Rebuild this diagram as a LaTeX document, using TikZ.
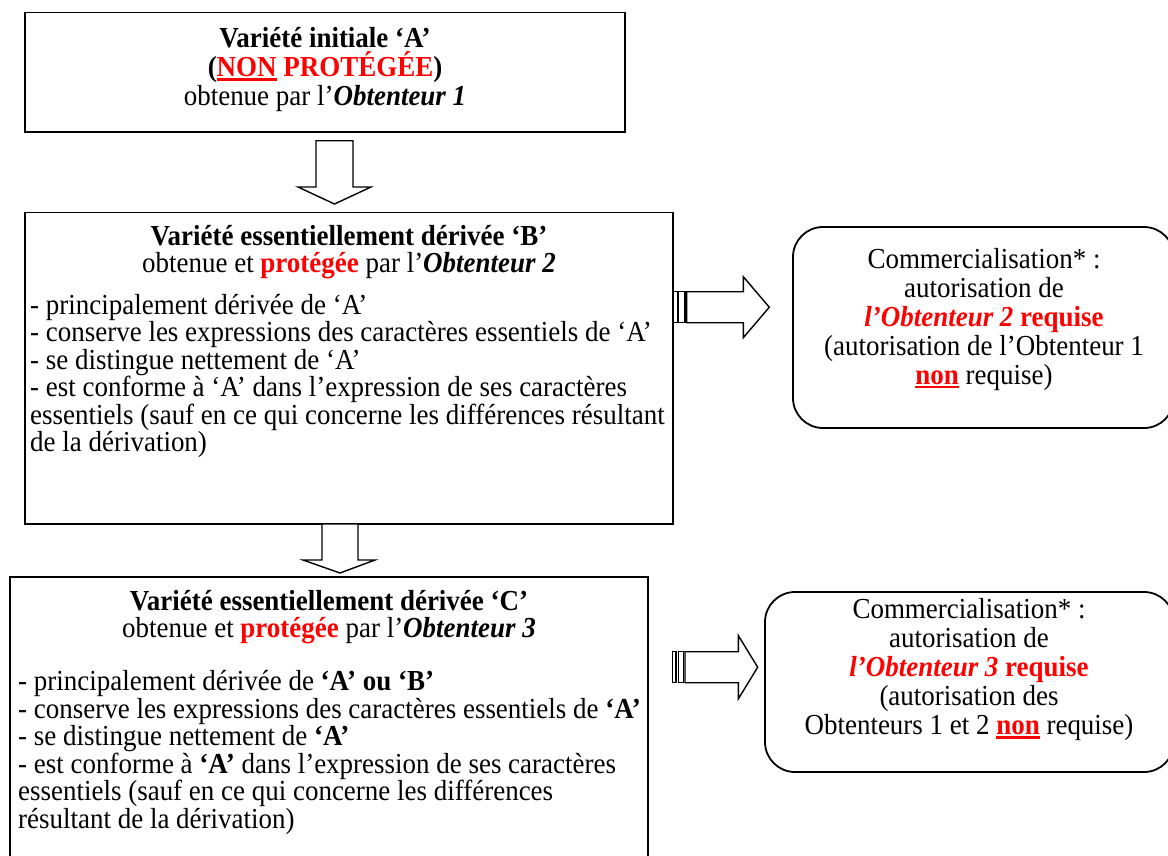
\documentclass[tikz,border=0pt]{standalone}
\usepackage{fontspec}
\setmainfont{Liberation Serif}[FakeStretch=0.93]
\usetikzlibrary{calc}
\definecolor{rd}{RGB}{255,0,0}
\newcommand{\myul}[1]{{\setbox0\hbox{#1}\leavevmode\rlap{\rule[-3.8pt]{\wd0}{2.4pt}}\box0}}
\tikzset{
  box/.style={draw, line width=1.8pt, rectangle, inner sep=0pt},
  rbox/.style={draw, line width=1.8pt, rectangle, rounded corners=30pt, inner sep=0pt},
  blockarrow/.style={draw, line width=1.4pt, fill=white, line join=miter},
  txt/.style={inner sep=0pt, font=\fontsize{29}{27}\selectfont, align=center},
  txta/.style={inner sep=0pt, font=\fontsize{29}{29}\selectfont, align=center},
  txtr/.style={inner sep=0pt, font=\fontsize{29}{29}\selectfont, align=center},
  ltxt/.style={inner sep=0pt, font=\fontsize{29}{27.5}\selectfont, align=left, anchor=west},
}
\begin{document}
\begin{tikzpicture}[x=1pt,y=-1pt]
\useasboundingbox[fill=white] (0,0) rectangle (1168,855);

% boxes
\node[box, minimum width=600pt, minimum height=119.5pt] (A) at (325,72.3) {};
\node[box, minimum width=648pt, minimum height=311.5pt] (B) at (349,368.2) {};
\node[box, minimum width=638pt, minimum height=293pt] (C) at (329,723.5) {};
\node[rbox, minimum width=381pt, minimum height=201pt] (R1) at (983.5,327.5) {};
\node[rbox, minimum width=409pt, minimum height=180pt] (R2) at (969.5,682) {};

% block arrows
\draw[blockarrow] (316,140.7) -- (353,140.7) -- (353,187) -- (371,187) -- (334.5,204) -- (298,187) -- (316,187) -- cycle;
\draw[blockarrow] (322,524) -- (358,524) -- (358,560) -- (375,560) -- (340,573) -- (303,560) -- (322,560) -- cycle;

\draw[blockarrow] (673,291.7) rectangle (677.3,322.7);
\draw[blockarrow] (678.7,291.7) rectangle (685,322.7);
\draw[blockarrow] (686.7,291.7) -- (743.3,291.7) -- (743.3,276.7) -- (769.3,307.2) -- (743.3,337.7) -- (743.3,322.7) -- (686.7,322.7) -- cycle;

\draw[blockarrow] (672.7,651.7) rectangle (676,682.7);
\draw[blockarrow] (678.3,651.7) rectangle (683.3,682.7);
\draw[blockarrow] (685,651.7) -- (738.3,651.7) -- (738.3,635.5) -- (757.7,667.2) -- (738.3,698.9) -- (738.3,682.7) -- (685,682.7) -- cycle;

% texts
\node[txta] (tA) at (325,70) {\textbf{Variété initiale ‘A’}\\
\textbf{(\textcolor{rd}{\myul{NON} PROTÉGÉE})}\\
obtenue par l’\textbf{\textit{Obtenteur 1}}};

\node[txt] (tB) at (349,252.5) {\textbf{Variété essentiellement dérivée ‘B’}\\
obtenue et \textcolor{rd}{\textbf{protégée}} par l’\textbf{\textit{Obtenteur 2}}};
\node[ltxt] (lB) at (30,376) {- principalement dérivée de ‘A’\\
- conserve les expressions des caractères essentiels de ‘A’\\
- se distingue nettement de ‘A’\\
- est conforme à ‘A’ dans l’expression de ses caractères\\
essentiels (sauf en ce qui concerne les différences résultant\\
de la dérivation)};

\node[txt] (tC) at (329,617.5) {\textbf{Variété essentiellement dérivée ‘C’}\\
obtenue et \textcolor{rd}{\textbf{protégée}} par l’\textbf{\textit{Obtenteur 3}}};
\node[ltxt] (lC) at (18,752.5) {- principalement dérivée de \textbf{‘A’ ou ‘B’}\\
- conserve les expressions des caractères essentiels de \textbf{‘A’}\\
- se distingue nettement de \textbf{‘A’}\\
- est conforme à \textbf{‘A’} dans l’expression de ses caractères\\
essentiels (sauf en ce qui concerne les différences\\
résultant de la dérivation)};

\node[txtr] (tR1) at (984,319.5) {Commercialisation* :\\
autorisation de\\
\textcolor{rd}{\textbf{\textit{l’Obtenteur 2}} \textbf{requise}}\\
(autorisation de l’Obtenteur 1\\
\textcolor{rd}{\textbf{\myul{non}}} requise)};

\node[txtr] (tR2) at (969,670) {Commercialisation* :\\
autorisation de\\
\textcolor{rd}{\textbf{\textit{l’Obtenteur 3}} \textbf{requise}}\\
(autorisation des\\
Obtenteurs 1 et 2 \textcolor{rd}{\textbf{\myul{non}}} requise)};
\end{tikzpicture}
\end{document}
